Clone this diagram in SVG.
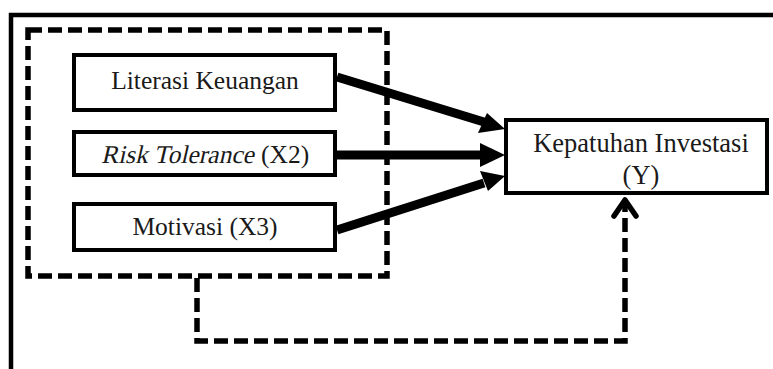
<svg xmlns="http://www.w3.org/2000/svg" width="773" height="369" viewBox="0 0 773 369">
<style>
.frame{fill:none;stroke:#000;stroke-width:4.5}
.dash{fill:none;stroke:#000;stroke-width:5.5;stroke-dasharray:14 6}
.box{fill:#fff;stroke:#000;stroke-width:4}
.t{font-family:"Liberation Serif","Times New Roman",serif;font-size:25.5px;fill:#1a1a1a;text-anchor:middle}
.y{font-size:26.5px}
.s{text-anchor:start}
.arr{fill:none;stroke:#000;stroke-width:9}
</style>
<rect width="773" height="369" fill="#fff"/>
<path class="frame" d="M11,369 V15 H773"/>
<g id="group-x">
<rect class="dash" x="28" y="30" width="359" height="246"/>
</g>
<g id="connectors">
<line class="arr" x1="337" y1="77" x2="484" y2="122"/>
<path d="M505,129 L478,133 L487,113 Z" fill="#000"/>
<line class="arr" x1="337" y1="155" x2="482" y2="155"/>
<path d="M505,155 L480,143 L480,167 Z" fill="#000"/>
<line class="arr" x1="337" y1="230" x2="484" y2="183"/>
<path d="M505,176 L480,171 L488,191 Z" fill="#000"/>
<path class="dash" d="M197,278 V341 H625 V204"/>
<path d="M614,216 L625,200 L636,216" fill="none" stroke="#000" stroke-width="5.5" stroke-linejoin="round" stroke-linecap="round"/>
</g>
<g id="node-x1">
<rect class="box" x="74" y="55" width="261" height="55"/>
<text class="t" x="205" y="89">Literasi Keuangan</text>
</g>
<g id="node-x2">
<rect class="box" x="74" y="132" width="261" height="43"/>
<text class="t s" x="101" y="163" transform="translate(0,163) skewX(-13) translate(0,-163)">Risk Tolerance</text>
<text class="t s" x="261" y="163">(X2)</text>
</g>
<g id="node-x3">
<rect class="box" x="74" y="204" width="261" height="46"/>
<text class="t" x="205" y="235">Motivasi (X3)</text>
</g>
<g id="node-y">
<rect class="box" x="506" y="120" width="261" height="73"/>
<text class="t y" x="641" y="152">Kepatuhan Investasi</text>
<text class="t y" x="641" y="184">(Y)</text>
</g>
</svg>
